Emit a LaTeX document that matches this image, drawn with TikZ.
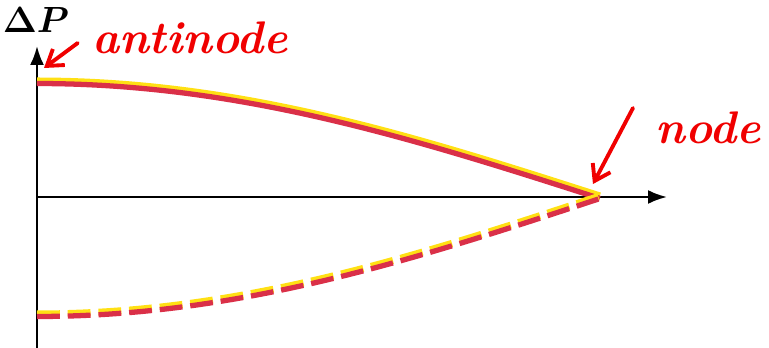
\documentclass[tikz,border=0pt]{standalone}
\usepackage{amsmath, amssymb}
\usepackage{bm}
\usepackage{tikz}
\usetikzlibrary{positioning,arrows.meta}
\definecolor{curvered}{RGB}{218,48,72}
\definecolor{haloyellow}{RGB}{255,224,20}
\definecolor{inkred}{RGB}{240,0,0}
\tikzset{
  axisarrow/.style={-{Latex[length=3.8mm, width=2.8mm]}, line width=1.4pt},
  wavehalo/.style={line width=4pt, haloyellow},
  wavecurve/.style={line width=3pt, curvered},
  dashcurve/.style={dash pattern=on 13pt off 4.5pt},
  notetext/.style={inkred, font=\fontsize{26}{26}\selectfont\bfseries\itshape, inner sep=0pt},
  notearrow/.style={-{Straight Barb[length=3mm, width=4mm]}, line width=2.2pt, inkred, line cap=round}
}

\begin{document}
\begin{tikzpicture}[x=0.02cm, y=-0.02cm]
  \useasboundingbox (0,0) rectangle (769,348);
  % axes
  \coordinate (orig) at (37,197);
  \coordinate (ybot) at (37,348);
  \coordinate (ytop) at (37,46);
  \coordinate (xend) at (667,197);
  \draw[axisarrow] (ybot) -- (ytop);
  \draw[axisarrow] (orig) -- (xend);
  \node (dp) at (36,20) {\fontsize{22}{22}\selectfont$\bm{\Delta P}$};
  % pressure curves
  \draw[wavehalo] plot[domain=0:1, samples=50] ({37+563*\x},{196-115*cos(90*\x)});
  \draw[wavecurve] plot[domain=0:1, samples=50] ({37+563*\x},{198.5-115*cos(90*\x)});
  \draw[wavehalo, dashcurve] plot[domain=0:1, samples=50] ({37+563*\x},{196+118*cos(90*\x)});
  \draw[wavecurve, dashcurve] plot[domain=0:1, samples=50] ({37+563*\x},{198.5+118*cos(90*\x)});
  % notes
  \node[notetext] (anti) at (190,38) {antinode};
  \node[notetext] (nd) at (708,128) {node};
  \coordinate (antitip) at (44,68);
  \coordinate (ndtip) at (593,184);
  \draw[notearrow] ([shift={(-14,5)}]anti.west) -- (antitip);
  \draw[notearrow] ([shift={(-22,-20)}]nd.west) -- (ndtip);
\end{tikzpicture}
\end{document}
